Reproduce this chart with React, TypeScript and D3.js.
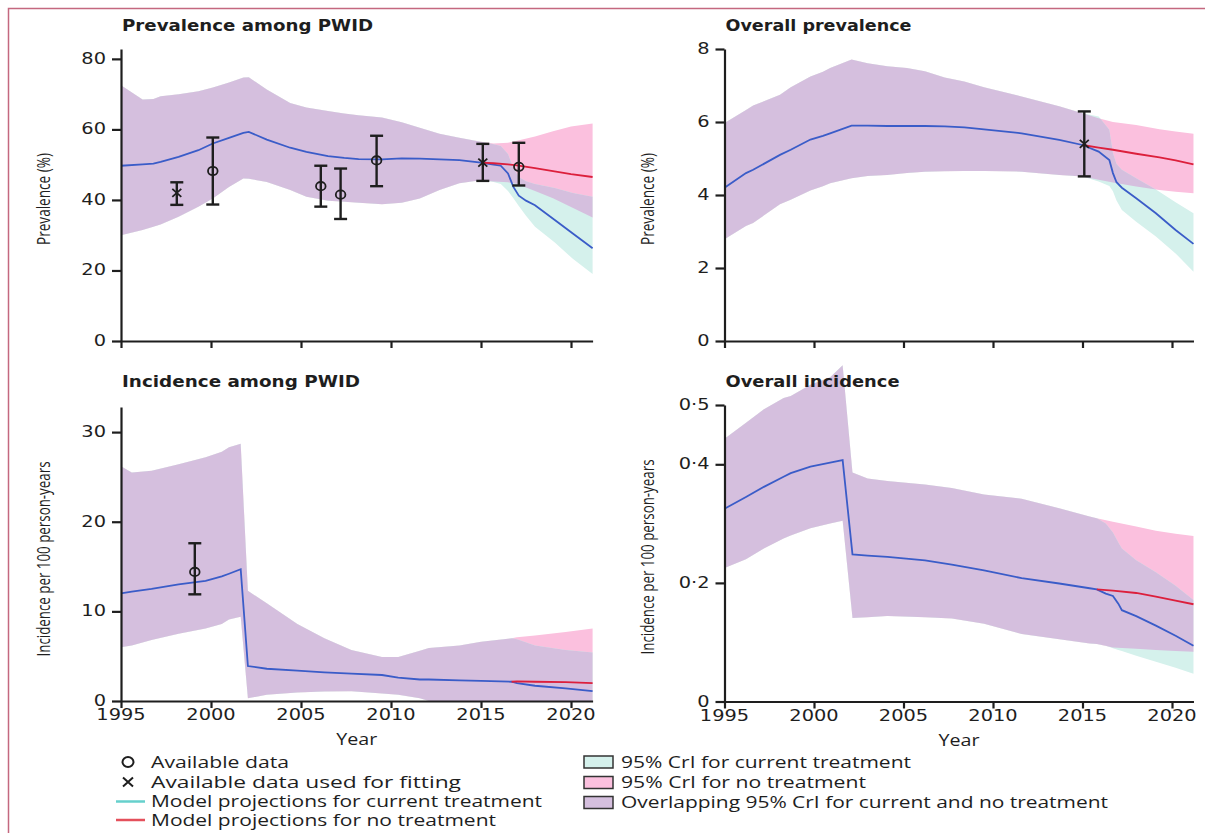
import React, { useEffect, useRef } from 'react';
import * as d3 from 'd3';

const W = 1205;
const H = 833;

const PURPLE = '#d5bfde';
const PINK = '#fbc0de';
const CYAN = '#d5f1ec';
const BLUE = '#3a5cc8';
const RED = '#dc1f3c';
const INK = '#1e1e1e';

const yearTicks = [1995, 2000, 2005, 2010, 2015, 2020];

// rows: [year, lower 95% CrI, model projection, upper 95% CrI]
const pwidPrevHist = [
  [1995.0, 30.0, 49.7, 72.5], [1996.2, 31.5, 50.1, 68.5], [1996.8, 32.4, 50.3, 68.6],
  [1997.2, 33.0, 50.8, 69.4], [1998.2, 35.2, 52.2, 70.0], [1999.3, 38.1, 54.1, 70.8],
  [2000.1, 40.4, 56.0, 71.9], [2001.0, 43.7, 57.6, 73.3], [2001.8, 46.1, 59.0, 74.7],
  [2002.1, 46.0, 59.3, 74.8], [2003.1, 45.1, 57.1, 71.3], [2004.4, 42.8, 54.8, 67.5],
  [2005.3, 40.9, 53.6, 66.2], [2006.5, 39.8, 52.4, 65.2], [2007.4, 39.5, 51.9, 64.5],
  [2008.2, 39.2, 51.6, 64.0], [2009.5, 38.8, 51.5, 63.4], [2010.6, 39.2, 51.8, 62.0],
  [2011.6, 40.4, 51.7, 60.5], [2012.7, 42.8, 51.5, 58.8], [2013.8, 44.7, 51.3, 57.6],
  [2015.0, 45.6, 50.6, 56.5],
];
const pwidPrevCurrent = [
  [2015.7, 45.1, 50.0, 55.8], [2016.1, 44.5, 49.7, 55.3], [2016.5, 42.5, 47.5, 53.0],
  [2016.8, 40.5, 43.7, 49.0], [2017.1, 38.3, 41.2, 46.5], [2017.5, 35.5, 39.8, 45.3],
  [2018.0, 32.4, 38.5, 44.5], [2019.1, 27.9, 34.3, 43.4], [2020.1, 23.3, 30.5, 42.0],
  [2021.2, 19.0, 26.3, 40.9],
];
const pwidPrevNoTx = [
  [2015.7, 45.2, 50.4, 56.0], [2016.5, 45.0, 50.1, 56.2], [2017.0, 44.5, 49.8, 56.8],
  [2018.0, 42.5, 49.0, 58.0], [2019.0, 40.5, 48.2, 59.5], [2020.0, 38.0, 47.3, 60.8],
  [2021.2, 35.0, 46.5, 61.7],
];
// points: [year, value, lower, upper]
const pwidPrevData = [
  [2000.1, 48.2, 38.7, 57.7], [2006.1, 43.9, 38.1, 49.7], [2007.2, 41.5, 34.6, 48.9],
  [2009.2, 51.2, 43.9, 58.2], [2017.1, 49.4, 44.1, 56.2],
];
const pwidPrevFitted = [[1998.1, 42.0, 38.6, 45.0], [2015.1, 50.6, 45.4, 55.9]];

const allPrevHist = [
  [1995.0, 2.79, 4.2, 5.97], [1996.2, 3.15, 4.6, 6.33], [1996.6, 3.23, 4.69, 6.45],
  [1998.1, 3.75, 5.1, 6.75], [1998.7, 3.87, 5.24, 6.95], [1999.8, 4.12, 5.52, 7.25],
  [2000.5, 4.24, 5.62, 7.38], [2000.9, 4.32, 5.69, 7.48], [2002.1, 4.46, 5.9, 7.71],
  [2003.0, 4.52, 5.9, 7.61], [2004.1, 4.55, 5.89, 7.53], [2005.2, 4.6, 5.89, 7.48],
  [2006.2, 4.64, 5.89, 7.39], [2007.3, 4.65, 5.88, 7.22], [2008.4, 4.66, 5.85, 7.11],
  [2009.5, 4.66, 5.8, 6.95], [2011.6, 4.64, 5.69, 6.7], [2013.7, 4.55, 5.51, 6.43],
  [2015.0, 4.51, 5.37, 6.24],
];
const allPrevCurrent = [
  [2015.9, 4.37, 5.19, 6.15], [2016.5, 4.25, 4.96, 5.79], [2016.7, 4.1, 4.6, 5.15],
  [2016.9, 3.85, 4.35, 4.85], [2017.2, 3.59, 4.2, 4.69], [2018.0, 3.27, 3.91, 4.46],
  [2019.1, 2.86, 3.5, 4.15], [2020.2, 2.4, 3.04, 3.8], [2021.2, 1.9, 2.66, 3.5],
];
const allPrevNoTx = [
  [2015.9, 4.42, 5.3, 6.1], [2016.7, 4.34, 5.24, 6.0], [2018.0, 4.23, 5.13, 5.92],
  [2019.3, 4.14, 5.03, 5.8], [2020.2, 4.09, 4.95, 5.74], [2021.2, 4.05, 4.84, 5.68],
];
const allPrevFitted = [[2015.1, 5.4, 4.51, 6.29]];

const pwidIncHist = [
  [1995.0, 6.0, 12.0, 26.2], [1995.6, 6.2, 12.2, 25.5], [1996.7, 6.8, 12.5, 25.7],
  [1998.2, 7.5, 13.0, 26.4], [1999.7, 8.1, 13.4, 27.2], [2000.6, 8.6, 13.9, 27.8],
  [2001.0, 9.1, 14.2, 28.3], [2001.65, 9.4, 14.7, 28.7], [2002.05, 0.3, 3.9, 12.3],
  [2003.1, 0.7, 3.6, 10.9], [2004.8, 0.95, 3.4, 8.6], [2006.3, 1.05, 3.2, 7.0],
  [2007.8, 1.1, 3.05, 5.7], [2009.5, 0.85, 2.9, 4.9], [2010.4, 0.7, 2.6, 4.9],
  [2011.6, 0.3, 2.4, 5.6], [2012.1, 0.0, 2.4, 5.9], [2013.8, 0.0, 2.3, 6.2],
  [2015.0, 0.0, 2.25, 6.6], [2016.7, 0.0, 2.15, 7.0],
];
const pwidIncCurrent = [
  [2017.0, 0.0, 2.0, 6.9], [2018.0, 0.0, 1.7, 6.2], [2019.7, 0.0, 1.4, 5.7], [2021.2, 0.0, 1.1, 5.4],
];
const pwidIncNoTx = [
  [2017.0, 0.0, 2.2, 7.1], [2018.0, 0.0, 2.15, 7.3], [2019.7, 0.0, 2.1, 7.7], [2021.2, 0.0, 2.0, 8.1],
];
const pwidIncData = [[1999.1, 14.4, 11.9, 17.6]];

const allIncHist = [
  [1995.0, 0.225, 0.325, 0.443], [1996.2, 0.24, 0.345, 0.47], [1997.2, 0.258, 0.362, 0.493],
  [1998.3, 0.275, 0.379, 0.512], [1998.7, 0.28, 0.385, 0.515], [1999.8, 0.292, 0.396, 0.534],
  [2000.9, 0.3, 0.403, 0.547], [2001.6, 0.305, 0.407, 0.567], [2002.15, 0.141, 0.248, 0.386],
  [2003.0, 0.142, 0.246, 0.376], [2004.1, 0.144, 0.244, 0.372], [2006.2, 0.142, 0.238, 0.366],
  [2007.7, 0.14, 0.231, 0.36], [2009.5, 0.131, 0.221, 0.349], [2011.6, 0.114, 0.208, 0.342],
  [2013.7, 0.105, 0.199, 0.326], [2015.4, 0.098, 0.191, 0.312], [2015.8, 0.097, 0.189, 0.309],
];
const allIncCurrent = [
  [2016.3, 0.094, 0.182, 0.3], [2016.7, 0.09, 0.178, 0.285], [2017.0, 0.087, 0.165, 0.268],
  [2017.2, 0.085, 0.154, 0.258], [2018.0, 0.077, 0.144, 0.238], [2019.1, 0.067, 0.128, 0.218],
  [2020.2, 0.057, 0.111, 0.195], [2021.2, 0.047, 0.094, 0.171],
];
const allIncNoTx = [
  [2016.7, 0.091, 0.187, 0.303], [2018.0, 0.089, 0.183, 0.295], [2019.1, 0.087, 0.177, 0.288],
  [2020.2, 0.085, 0.17, 0.283], [2021.2, 0.084, 0.164, 0.279],
];

const lancet = (d) => (d === 0 ? '0' : d3.format('.1f')(d).replace('.', '·'));

const panels = [
  {
    id: 'a', title: 'Prevalence among PWID', titleW: 251, yLabel: 'Prevalence (%)', yLabelW: 92,
    hist: pwidPrevHist, cur: pwidPrevCurrent, none: pwidPrevNoTx, circles: pwidPrevData, crosses: pwidPrevFitted,
    yMax: 82.8, yTicks: [0, 20, 40, 60, 80], fmt: (d) => String(d),
    left: 121, ppy: 18, bottom: 341, top: 49, titleY: 31, labelCy: 199, years: false,
  },
  {
    id: 'b', title: 'Overall prevalence', titleW: 186, yLabel: 'Prevalence (%)', yLabelW: 92,
    hist: allPrevHist, cur: allPrevCurrent, none: allPrevNoTx, circles: [], crosses: allPrevFitted,
    yMax: 8, yTicks: [0, 2, 4, 6, 8], fmt: (d) => String(d),
    left: 724.5, ppy: 17.9, bottom: 341, top: 49, titleY: 31, labelCy: 199, years: false,
  },
  {
    id: 'c', title: 'Incidence among PWID', titleW: 238, yLabel: 'Incidence per 100 person-years', yLabelW: 195,
    hist: pwidIncHist, cur: pwidIncCurrent, none: pwidIncNoTx, circles: pwidIncData, crosses: [],
    yMax: 32.8, yTicks: [0, 10, 20, 30], fmt: (d) => String(d),
    left: 121, ppy: 18, bottom: 701, top: 407, titleY: 387, labelCy: 559, years: true,
  },
  {
    id: 'd', title: 'Overall incidence', titleW: 174, yLabel: 'Incidence per 100 person-years', yLabelW: 195,
    hist: allIncHist, cur: allIncCurrent, none: allIncNoTx, circles: [], crosses: [],
    yMax: 0.5, yTicks: [0, 0.2, 0.4, 0.5], fmt: lancet,
    left: 724.5, ppy: 17.9, bottom: 701.5, top: 405, titleY: 387, labelCy: 557, years: true,
  },
];

const legendLeft = [
  { kind: 'circle', text: 'Available data', w: 138 },
  { kind: 'cross', text: 'Available data used for fitting', w: 310 },
  { kind: 'line', color: '#66d0cc', text: 'Model projections for current treatment', w: 391 },
  { kind: 'line', color: '#e4505c', text: 'Model projections for no treatment', w: 345 },
];
const legendRight = [
  { fill: CYAN, text: '95% CrI for current treatment', w: 290 },
  { fill: PINK, text: '95% CrI for no treatment', w: 245 },
  { fill: PURPLE, text: 'Overlapping 95% CrI for current and no treatment', w: 487 },
];

function drawPanel(svg, p) {
  const x = d3.scaleLinear().domain([1995, 2021.2]).range([p.left, p.left + 26.2 * p.ppy]);
  const y = d3.scaleLinear().domain([0, p.yMax]).range([p.bottom, p.top]);
  const g = svg.append('g');

  const curRows = p.hist.concat(p.cur);
  const noRows = p.hist.concat(p.none);
  const area = d3.area().x((d) => x(d[0])).y0((d) => y(d[1])).y1((d) => y(d[3]));
  const line = d3.line().x((d) => x(d[0])).y((d) => y(d[2]));

  g.append('path').attr('d', area(noRows)).attr('fill', PINK);
  g.append('path').attr('d', area(curRows)).attr('fill', CYAN);
  const clipId = 'overlap-' + p.id;
  g.append('clipPath').attr('id', clipId).append('path').attr('d', area(noRows));
  g.append('path').attr('d', area(curRows)).attr('fill', PURPLE).attr('clip-path', `url(#${clipId})`);

  g.append('path').attr('d', line(curRows)).attr('fill', 'none').attr('stroke', BLUE).attr('stroke-width', 1.8);
  g.append('path')
    .attr('d', line([p.hist[p.hist.length - 1]].concat(p.none)))
    .attr('fill', 'none').attr('stroke', RED).attr('stroke-width', 1.8);

  // error bars
  const bars = g.append('g').attr('stroke', INK).attr('stroke-width', 2.4).attr('fill', 'none');
  p.circles.concat(p.crosses).forEach((d) => {
    const cx = x(d[0]);
    bars.append('line').attr('x1', cx).attr('x2', cx).attr('y1', y(d[2])).attr('y2', y(d[3]));
    bars.append('line').attr('x1', cx - 6.5).attr('x2', cx + 6.5).attr('y1', y(d[2])).attr('y2', y(d[2]));
    bars.append('line').attr('x1', cx - 6.5).attr('x2', cx + 6.5).attr('y1', y(d[3])).attr('y2', y(d[3]));
  });
  g.selectAll('ellipse.pt').data(p.circles).join('ellipse')
    .attr('class', 'pt')
    .attr('cx', (d) => x(d[0])).attr('cy', (d) => y(d[1]))
    .attr('rx', 4.8).attr('ry', 4.2)
    .attr('fill', 'none').attr('stroke', INK).attr('stroke-width', 1.8);
  p.crosses.forEach((d) => {
    const cx = x(d[0]);
    const cy = y(d[1]);
    g.append('path')
      .attr('d', `M${cx - 4.5},${cy - 4}L${cx + 4.5},${cy + 4}M${cx - 4.5},${cy + 4}L${cx + 4.5},${cy - 4}`)
      .attr('stroke', INK).attr('stroke-width', 1.8);
  });

  // axes
  const yAxis = d3.axisLeft(y).tickValues(p.yTicks).tickSize(9).tickSizeOuter(0).tickFormat(() => '');
  const xAxis = d3.axisBottom(x).tickValues(yearTicks).tickSize(7).tickSizeOuter(0).tickFormat(() => '');
  [
    g.append('g').attr('transform', `translate(${p.left},0)`).call(yAxis),
    g.append('g').attr('transform', `translate(0,${p.bottom})`).call(xAxis),
  ].forEach((ax) => {
    ax.select('.domain').attr('stroke', INK).attr('stroke-width', 2.2);
    ax.selectAll('.tick line').attr('stroke', INK).attr('stroke-width', 2.2);
  });

  const txt = (tx, ty, s, anchor, size, extra = '') =>
    g.append('text')
      .attr('transform', `translate(${tx},${ty})${extra}`)
      .attr('text-anchor', anchor)
      .attr('font-family', 'DejaVu Sans, sans-serif')
      .attr('font-size', size)
      .attr('fill', INK)
      .text(s);

  p.yTicks.forEach((v) => {
    txt(p.left - 15, y(v) + 5, p.fmt(v), 'end', 15.5, ' scale(1.25,1)');
  });
  if (p.years) {
    yearTicks.forEach((v) => txt(x(v), p.bottom + 19, String(v), 'middle', 15.5, ' scale(1.25,1)'));
    g.append('text')
      .attr('x', x(2008.1)).attr('y', p.bottom + 44)
      .attr('text-anchor', 'middle')
      .attr('font-family', 'Open Sans, sans-serif').attr('font-size', 17)
      .attr('textLength', 41).attr('lengthAdjust', 'spacingAndGlyphs')
      .attr('fill', INK).text('Year');
  }

  g.append('text')
    .attr('x', p.left + 1).attr('y', p.titleY)
    .attr('font-family', 'DejaVu Sans, sans-serif').attr('font-weight', 'bold').attr('font-size', 16.5)
    .attr('textLength', p.titleW).attr('lengthAdjust', 'spacingAndGlyphs')
    .attr('fill', INK).text(p.title);

  g.append('text')
    .attr('transform', `translate(${p.left - 71},${p.labelCy}) rotate(-90)`)
    .attr('text-anchor', 'middle')
    .attr('font-family', 'Open Sans, sans-serif').attr('font-size', 19)
    .attr('textLength', p.yLabelW).attr('lengthAdjust', 'spacingAndGlyphs')
    .attr('fill', INK).text(p.yLabel);
}

function drawLegend(svg) {
  const g = svg.append('g').attr('font-family', 'Open Sans, sans-serif').attr('font-size', 16.5).attr('fill', INK);
  const rowsY = [762, 782, 801.5, 820];
  legendLeft.forEach((d, i) => {
    const cy = rowsY[i];
    if (d.kind === 'circle') {
      g.append('ellipse').attr('cx', 128).attr('cy', cy).attr('rx', 5.5).attr('ry', 5)
        .attr('fill', 'none').attr('stroke', INK).attr('stroke-width', 2);
    } else if (d.kind === 'cross') {
      g.append('path').attr('d', `M123,${cy - 4.5}L133,${cy + 4.5}M123,${cy + 4.5}L133,${cy - 4.5}`)
        .attr('stroke', INK).attr('stroke-width', 2);
    } else {
      g.append('line').attr('x1', 116).attr('x2', 145).attr('y1', cy).attr('y2', cy)
        .attr('stroke', d.color).attr('stroke-width', 2.5);
    }
    g.append('text').attr('x', 151).attr('y', cy + 5.5)
      .attr('textLength', d.w).attr('lengthAdjust', 'spacingAndGlyphs').text(d.text);
  });
  const rightY = [762, 782.5, 802.5];
  legendRight.forEach((d, i) => {
    const cy = rightY[i];
    g.append('rect').attr('x', 584).attr('y', cy - 6).attr('width', 29).attr('height', 12)
      .attr('fill', d.fill).attr('stroke', '#333').attr('stroke-width', 1.5);
    g.append('text').attr('x', 621).attr('y', cy + 5.5)
      .attr('textLength', d.w).attr('lengthAdjust', 'spacingAndGlyphs').text(d.text);
  });
}

export default function App() {
  const ref = useRef(null);

  useEffect(() => {
    const svg = d3.select(ref.current);
    svg.selectAll('*').remove();
    svg.append('rect').attr('width', W).attr('height', H).attr('fill', '#fff');
    // page frame
    svg.append('path').attr('d', `M8.5,${H}V8.5H${W}`).attr('fill', 'none')
      .attr('stroke', '#c4687f').attr('stroke-width', 1.5);
    panels.forEach((p) => drawPanel(svg, p));
    drawLegend(svg);
  }, []);

  return (
    <div style={{ position: 'absolute', left: 0, top: 0 }}>
      <svg ref={ref} width={W} height={H} style={{ display: 'block' }} />
    </div>
  );
}
